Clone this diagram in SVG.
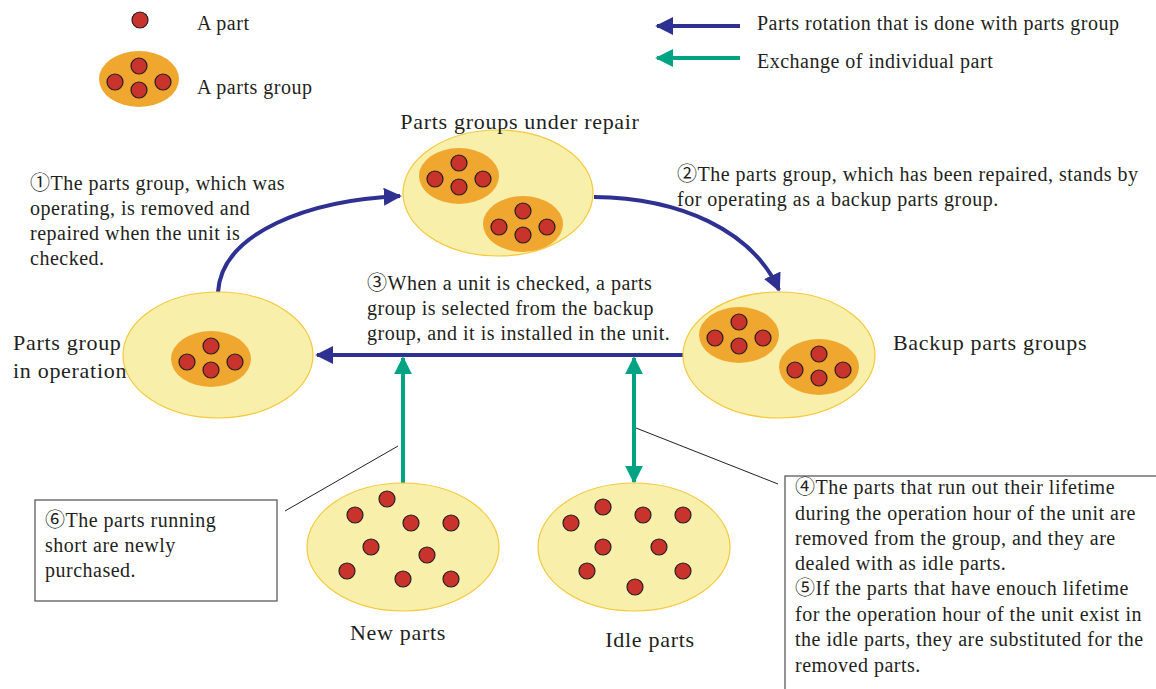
<svg xmlns="http://www.w3.org/2000/svg" xmlns:xlink="http://www.w3.org/1999/xlink" width="1156" height="689" viewBox="0 0 1156 689">
<style>
text{font-family:"Liberation Serif","Times New Roman","Noto Sans CJK JP",serif;font-size:20px;letter-spacing:0.5px;fill:#231f20}
.title{font-size:22px;letter-spacing:0.7px}
.pool{fill:#f8efab;stroke:#f6c83a;stroke-width:1.2}
.grp{fill:#f0a72f}
.part{fill:#c8332c;stroke:#231f20;stroke-width:1.2}
.blue{fill:none;stroke:#2e3192;stroke-width:4}
.green{fill:none;stroke:#00a484;stroke-width:4}
.box{fill:#fff;stroke:#4d4d4d;stroke-width:1.2}
.lead{stroke:#231f20;stroke-width:1}
</style>
<defs>
<circle id="p" r="8" class="part"/>
<g id="g">
<ellipse rx="40" ry="28" class="grp"/>
<use xlink:href="#p" y="-13"/><use xlink:href="#p" x="-24" y="3"/><use xlink:href="#p" x="24" y="3"/><use xlink:href="#p" y="11"/>
</g>
<marker id="ab" viewBox="0 0 10 10" refX="9" refY="5" markerWidth="4.5" markerHeight="4.5" orient="auto" markerUnits="strokeWidth"><path d="M0,0 L10,5 L0,10 z" fill="#2e3192"/></marker>
<marker id="ag" viewBox="0 0 10 10" refX="9" refY="5" markerWidth="4.5" markerHeight="4.5" orient="auto-start-reverse" markerUnits="strokeWidth"><path d="M0,0 L10,5 L0,10 z" fill="#00a484"/></marker>
</defs>
<g id="legend">
<use xlink:href="#p" x="140" y="20"/>
<text x="197" y="30">A part</text>
<use xlink:href="#g" x="139" y="79"/>
<text x="197" y="94">A parts group</text>
<line x1="740" y1="26" x2="657" y2="26" class="blue" marker-end="url(#ab)"/>
<text x="757" y="30">Parts rotation that is done with parts group</text>
<line x1="740" y1="58" x2="657" y2="58" class="green" marker-end="url(#ag)"/>
<text x="757" y="68">Exchange of individual part</text>
</g>
<g id="connectors">
<path d="M218,292 C222,232 310,200 400,196" class="blue" marker-end="url(#ab)"/>
<path d="M594,197 C680,198 752,230 779,290" class="blue" marker-end="url(#ab)"/>
<line x1="683" y1="355" x2="317" y2="355" class="blue" marker-end="url(#ab)"/>
<line x1="403" y1="483" x2="403" y2="358" class="green" marker-end="url(#ag)"/>
<line x1="634" y1="482" x2="634" y2="358" class="green" marker-start="url(#ag)" marker-end="url(#ag)"/>
<line x1="285" y1="511" x2="398" y2="446" class="lead"/>
<line x1="636" y1="428" x2="778" y2="484" class="lead"/>
</g>
<g id="repair">
<ellipse cx="498" cy="193" rx="95" ry="63" class="pool"/>
<use xlink:href="#g" x="459" y="176"/>
<use xlink:href="#g" x="523" y="224"/>
<text x="520" y="129" class="title" text-anchor="middle">Parts groups under repair</text>
</g>
<g id="operation">
<ellipse cx="218" cy="355" rx="95" ry="63" class="pool"/>
<use xlink:href="#g" x="211" y="359"/>
<text x="13" y="350" class="title">Parts group</text>
<text x="13" y="378" class="title">in operation</text>
</g>
<g id="backup">
<ellipse cx="779" cy="355" rx="96" ry="63" class="pool"/>
<use xlink:href="#g" x="739" y="335"/>
<use xlink:href="#g" x="819" y="367"/>
<text x="893" y="350" class="title">Backup parts groups</text>
</g>
<g id="newparts">
<ellipse cx="403" cy="547" rx="96" ry="64" class="pool"/>
<use xlink:href="#p" x="387" y="499"/><use xlink:href="#p" x="355" y="515"/><use xlink:href="#p" x="411" y="523"/><use xlink:href="#p" x="451" y="523"/>
<use xlink:href="#p" x="371" y="547"/><use xlink:href="#p" x="427" y="555"/>
<use xlink:href="#p" x="347" y="571"/><use xlink:href="#p" x="403" y="579"/><use xlink:href="#p" x="451" y="579"/>
<text x="398" y="640" class="title" text-anchor="middle">New parts</text>
</g>
<g id="idleparts">
<ellipse cx="634" cy="547" rx="96" ry="64" class="pool"/>
<use xlink:href="#p" x="571" y="523"/><use xlink:href="#p" x="603" y="507"/><use xlink:href="#p" x="643" y="515"/><use xlink:href="#p" x="683" y="515"/>
<use xlink:href="#p" x="603" y="547"/><use xlink:href="#p" x="659" y="547"/>
<use xlink:href="#p" x="587" y="571"/><use xlink:href="#p" x="683" y="571"/><use xlink:href="#p" x="635" y="587"/>
<text x="650" y="647" class="title" text-anchor="middle">Idle parts</text>
</g>
<g id="note1">
<text x="30" y="190">①The parts group, which was</text>
<text x="30" y="215">operating, is removed and</text>
<text x="30" y="240">repaired when the unit is</text>
<text x="30" y="265">checked.</text>
</g>
<g id="note2">
<text x="677" y="181">②The parts group, which has been repaired, stands by</text>
<text x="677" y="206">for operating as a backup parts group.</text>
</g>
<g id="note3">
<text x="367" y="290">③When a unit is checked, a parts</text>
<text x="367" y="315">group is selected from the backup</text>
<text x="367" y="340">group, and it is installed in the unit.</text>
</g>
<g id="note6">
<rect x="35" y="500" width="242" height="101" class="box"/>
<text x="45" y="527">⑥The parts running</text>
<text x="45" y="552">short are newly</text>
<text x="45" y="577">purchased.</text>
</g>
<g id="note45">
<rect x="785" y="476" width="380" height="230" class="box"/>
<text x="795" y="494">④The parts that run out their lifetime</text>
<text x="795" y="520">during the operation hour of the unit are</text>
<text x="795" y="545">removed from the group, and they are</text>
<text x="795" y="570">dealed with as idle parts.</text>
<text x="795" y="595">⑤If the parts that have enouch lifetime</text>
<text x="795" y="621">for the operation hour of the unit exist in</text>
<text x="795" y="646">the idle parts, they are substituted for the</text>
<text x="795" y="672">removed parts.</text>
</g>
</svg>
